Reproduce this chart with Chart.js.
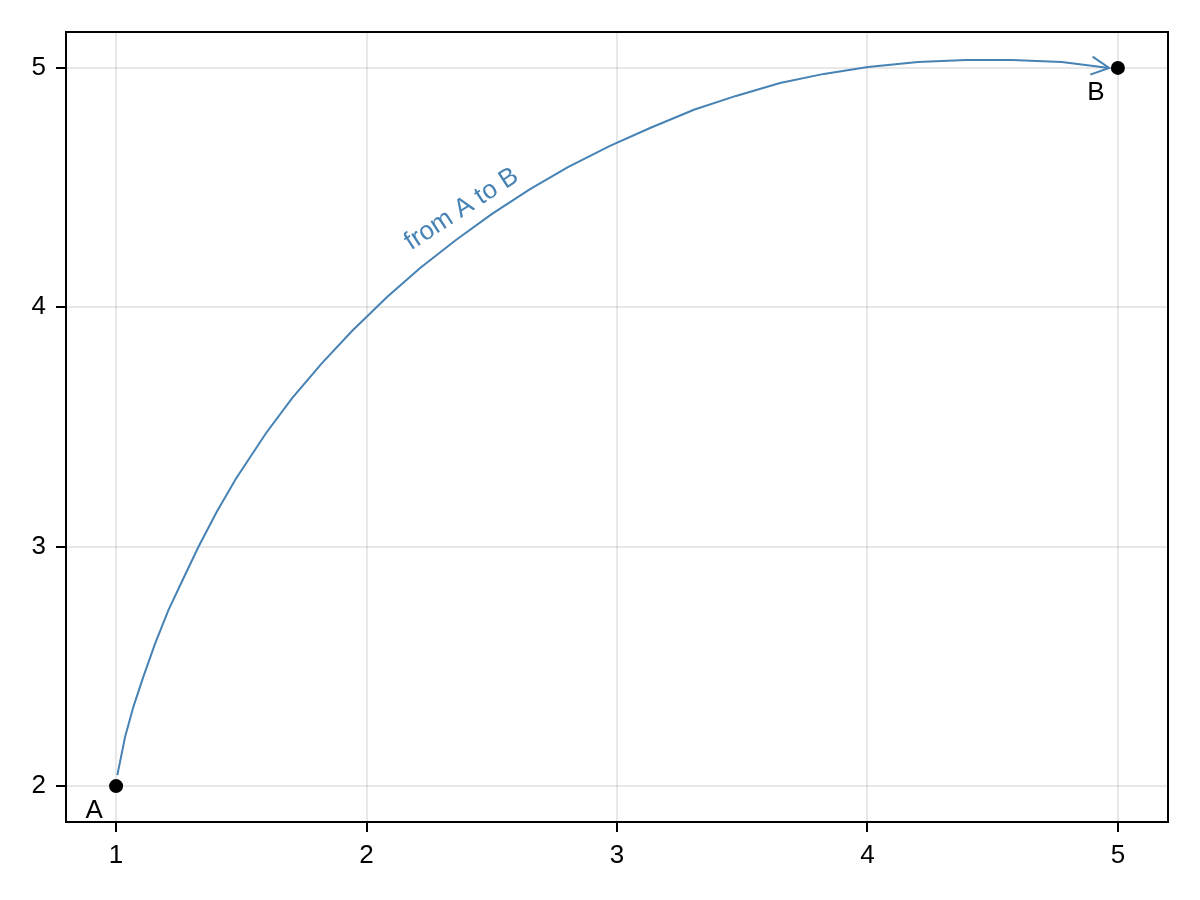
<!DOCTYPE html>
<html>
<head>
<meta charset="utf-8">
<script src="https://cdn.jsdelivr.net/npm/chart.js@4/dist/chart.umd.min.js"></script>
<style>
  body { margin: 0; background: #fff; }
  canvas { display: block; }
</style>
</head>
<body>
<canvas id="arcChart" width="1200" height="900"></canvas>
<script>
// ---- data ----
const pathX = [1.005, 1.036, 1.069, 1.109, 1.156, 1.209, 1.269, 1.329, 1.402, 1.479,
               1.599, 1.703, 1.822, 1.942, 2.082, 2.214, 2.357, 2.501, 2.653, 2.804,
               2.972, 3.132, 3.307, 3.475, 3.651, 3.826, 4.002, 4.202, 4.393, 4.577,
               4.776, 4.965];
const pathY = [2.046, 2.206, 2.331, 2.457, 2.596, 2.735, 2.868, 3.000, 3.146, 3.285,
               3.475, 3.621, 3.767, 3.901, 4.043, 4.164, 4.281, 4.390, 4.494, 4.586,
               4.674, 4.749, 4.825, 4.883, 4.937, 4.975, 5.004, 5.025, 5.033, 5.033,
               5.025, 5.000];
const pointX = [1, 5];
const pointY = [2, 5];
const pointLabels = ['A', 'B'];
const xTicks = [1, 2, 3, 4, 5];
const yTicks = [2, 3, 4, 5];
const arrowText = 'from A to B';
const arrowTextPos = { x: 2.38, y: 4.41 };

const FONT = '"Liberation Sans", Arial, Helvetica, sans-serif';
const BLUE = '#4682b4';

const annotate = {
  id: 'annotate',
  afterDatasetsDraw(chart) {
    const { ctx, chartArea, scales } = chart;
    ctx.save();

    // arrow head at end of the curve
    const pts = chart.getDatasetMeta(1).data;
    const tip = pts[pts.length - 1];
    const prev = pts[pts.length - 2];
    const ang = Math.atan2(tip.y - prev.y, tip.x - prev.x);
    const len = 20, spread = 0.47;
    ctx.strokeStyle = BLUE;
    ctx.lineWidth = 2;
    ctx.beginPath();
    ctx.moveTo(tip.x - len * Math.cos(ang - spread), tip.y - len * Math.sin(ang - spread));
    ctx.lineTo(tip.x, tip.y);
    ctx.lineTo(tip.x - len * Math.cos(ang + spread), tip.y - len * Math.sin(ang + spread));
    ctx.stroke();

    // point labels A / B
    ctx.fillStyle = '#000';
    ctx.font = '26px ' + FONT;
    ctx.textAlign = 'center';
    ctx.textBaseline = 'middle';
    chart.getDatasetMeta(0).data.forEach((p, i) => {
      ctx.fillText(pointLabels[i], p.x - 22, p.y + 25);
    });

    // rotated text along the curve
    const tx = scales.x.getPixelForValue(arrowTextPos.x);
    const ty = scales.y.getPixelForValue(arrowTextPos.y);
    ctx.translate(tx, ty);
    ctx.rotate(-33 * Math.PI / 180);
    ctx.fillStyle = BLUE;
    ctx.fillText(arrowText, 0, 0);
    ctx.restore();

    // frame
    ctx.save();
    ctx.strokeStyle = '#000';
    ctx.lineWidth = 2;
    ctx.strokeRect(chartArea.left, chartArea.top, chartArea.right - chartArea.left, chartArea.bottom - chartArea.top);
    ctx.restore();
  }
};

const ctx = document.getElementById('arcChart').getContext('2d');
new Chart(ctx, {
  type: 'scatter',
  data: {
    datasets: [
      {
        label: 'points',
        data: pointX.map((x, i) => ({ x: x, y: pointY[i] })),
        pointRadius: 7,
        pointBackgroundColor: '#000',
        pointBorderWidth: 0,
        showLine: false
      },
      {
        label: 'path',
        data: pathX.map((x, i) => ({ x: x, y: pathY[i] })),
        showLine: true,
        borderColor: BLUE,
        borderWidth: 2,
        pointRadius: 0,
        tension: 0
      }
    ]
  },
  options: {
    responsive: false,
    animation: false,
    layout: { padding: { top: 32, right: 32, left: 0, bottom: 0 } },
    plugins: { legend: { display: false }, tooltip: { enabled: false } },
    scales: {
      x: {
        type: 'linear',
        min: 0.8,
        max: 5.2,
        afterBuildTicks: (s) => { s.ticks = xTicks.map(v => ({ value: v })); },
        afterFit: (s) => { s.height = 78; },
        grid: { color: 'rgba(0,0,0,0.09)', lineWidth: 2, tickColor: '#000', tickWidth: 2, tickLength: 10 },
        border: { color: '#000', width: 2 },
        ticks: { color: '#000', font: { family: FONT, size: 26 }, padding: 8 }
      },
      y: {
        type: 'linear',
        min: 1.85,
        max: 5.15,
        afterBuildTicks: (s) => { s.ticks = yTicks.map(v => ({ value: v })); },
        afterFit: (s) => { s.width = 66; },
        grid: { color: 'rgba(0,0,0,0.09)', lineWidth: 2, tickColor: '#000', tickWidth: 2, tickLength: 10 },
        border: { color: '#000', width: 2 },
        ticks: { color: '#000', font: { family: FONT, size: 26 }, padding: 10 }
      }
    }
  },
  plugins: [annotate]
});
</script>
</body>
</html>
